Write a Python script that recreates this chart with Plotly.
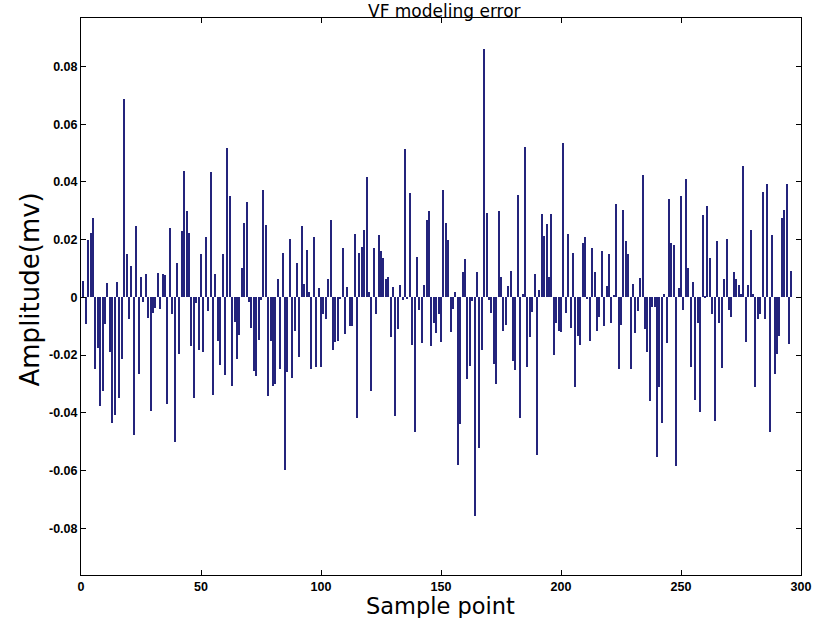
import plotly.graph_objects as go

# Sample index and modelling error values
sample_index = list(range(1, 301))
error_values = [
    0.0057, -0.0093, 0.020, 0.0223, 0.0276, -0.0247, -0.0175, -0.0375, -0.0326, -0.0093,
    0.0049, -0.0188, -0.0434, -0.0406, 0.0052, -0.0349, -0.0213, 0.0689, 0.0151, -0.0076,
    0.0109, -0.0477, 0.0248, -0.0267, 0.0072, -0.0016, 0.008, -0.007, -0.0392, -0.0053,
    -0.0036, 0.0085, -0.0042, 0.0082, 0.0078, -0.0369, 0.024, -0.0057, -0.0502, 0.0119,
    -0.0195, 0.0231, 0.0437, 0.0299, 0.0224, -0.0169, -0.0349, -0.0019, -0.0182, 0.0151,
    -0.019, 0.021, -0.0048, 0.0433, -0.0338, 0.008, -0.015, -0.0235, 0.0151, -0.0269,
    0.0519, 0.0351, -0.0307, -0.0084, -0.0213, -0.013, 0.0102, 0.0256, 0.033, -0.0016,
    -0.0107, -0.0255, -0.0272, -0.0147, -0.0008, 0.0373, 0.025, -0.0343, -0.015, -0.0307,
    -0.0301, 0.0063, -0.0247, 0.0155, -0.0599, -0.0258, 0.0201, -0.0278, -0.0116, 0.0119,
    -0.0207, 0.0247, 0.0047, 0.0165, 0.002, -0.0247, 0.021, -0.0241, 0.0034, -0.0241,
    -0.0056, -0.0074, 0.0063, 0.0267, -0.0182, -0.0156, -0.015, -0.0003, 0.0172, -0.0127,
    0.0037, -0.0099, -0.0099, 0.0219, -0.0419, 0.0153, 0.0174, 0.0234, 0.0418, 0.002,
    -0.0326, 0.017, -0.0057, 0.0217, 0.0159, 0.0136, 0.0064, 0.0072, -0.0139, 0.0037,
    -0.0411, -0.011, 0.0043, -0.0008, 0.0513, -0.0003, 0.0361, -0.0165, -0.0468, 0.014,
    -0.0044, -0.0158, 0.0043, 0.0267, 0.0299, -0.0167, -0.009, -0.0125, -0.0057, -0.0153,
    0.0372, 0.0256, 0.0199, -0.0119, -0.004, 0.002, -0.058, -0.044, 0.0089, 0.0132,
    -0.0284, -0.0239, -0.0011, -0.0758, 0.0089, -0.0523, -0.0184, 0.0859, 0.0293, -0.0008,
    -0.0053, -0.023, -0.030, 0.0299, 0.0072, -0.0116, -0.0097, 0.004, 0.0091, -0.0222,
    -0.025, 0.0356, -0.0417, 0.0013, 0.0522, -0.0242, -0.0139, -0.0051, 0.008, -0.0545,
    0.0026, 0.029, 0.0214, 0.0253, 0.0069, 0.0288, -0.0198, -0.009, -0.0116, -0.0119,
    0.0535, -0.0053, 0.0219, -0.0107, 0.0155, -0.0312, -0.0133, -0.0165, 0.0188, 0.0208,
    -0.0003, -0.0152, 0.0172, 0.0089, -0.0116, -0.0068, 0.0159, -0.0099, 0.004, 0.0149,
    -0.009, 0.0007, 0.0322, -0.0249, -0.0097, 0.0302, 0.0194, 0.0149, -0.0249, 0.0047,
    -0.0125, -0.0048, 0.0066, 0.0424, -0.011, -0.0188, -0.0358, -0.0034, -0.0034, -0.0553,
    -0.0309, -0.0434, 0.0013, -0.0159, 0.0341, 0.0188, 0.0183, -0.0585, 0.0034, 0.0351,
    -0.0044, 0.041, 0.0102, -0.0241, 0.0052, -0.0357, -0.0088, -0.0398, 0.0285, 0.0006,
    0.0316, 0.0136, -0.0057, -0.0428, 0.0194, -0.0088, -0.0244, 0.0064, 0.0201, -0.0044,
    -0.0068, 0.0089, 0.0064, 0.0043, 0.0011, 0.0455, -0.0153, 0.0043, 0.0234, 0.0013,
    -0.0309, -0.0074, -0.0057, 0.0365, -0.0076, 0.0394, -0.0465, 0.0217, -0.0267, -0.0195,
    -0.0133, 0.0276, 0.0302, 0.0392, -0.0161, 0.0091, 0.0, 0.0, 0.0, 0.0,
]

x_ticks = [0, 50, 100, 150, 200, 250, 300]
y_ticks = [-0.08, -0.06, -0.04, -0.02, 0, 0.02, 0.04, 0.06, 0.08]
y_tick_text = ["-0.08", "-0.06", "-0.04", "-0.02", "0", "0.02", "0.04", "0.06", "0.08"]

title_text = "VF modeling error"
x_title = "Sample point"
y_title = "Amplitude(mv)"

W, H = 823, 618
L, R, T, B = 81, 808, 18, 575

fig = go.Figure()
fig.add_trace(go.Bar(
    x=sample_index, y=error_values, width=0.4,
    marker=dict(color="#24247c", line=dict(width=0)),
    showlegend=False,
))

def px_to_paper_y(p):
    return (B - p) / (B - T)

def px_to_paper_x(p):
    return (p - L) / (R - L)

tick_font = dict(family="Liberation Sans", size=12.5, color="black", weight="bold")

fig.update_layout(
    width=W, height=H,
    margin=dict(l=L, r=W - R, t=T, b=H - B, pad=0),
    paper_bgcolor="white", plot_bgcolor="white",
    bargap=0,
    xaxis=dict(
        range=[0, 300], tickvals=x_ticks, ticks="inside", ticklen=5,
        tickcolor="black", showline=True, linecolor="black", linewidth=1,
        mirror="ticks", showgrid=False, zeroline=False, tickfont=tick_font,
    ),
    yaxis=dict(
        range=[-0.0962, 0.0968], tickvals=y_ticks, ticktext=y_tick_text,
        ticks="inside", ticklen=5, tickcolor="black", showline=True,
        linecolor="black", linewidth=1, mirror="ticks", showgrid=False,
        zeroline=False, tickfont=tick_font,
    ),
    annotations=[
        dict(text=title_text, xref="paper", yref="paper",
             x=px_to_paper_x(448), y=px_to_paper_y(11.5), showarrow=False,
             xanchor="center", yanchor="middle", borderpad=0,
             font=dict(family="DejaVu Sans", size=17, color="black")),
        dict(text=x_title, xref="paper", yref="paper",
             x=px_to_paper_x(444), y=px_to_paper_y(606), showarrow=False,
             xanchor="center", yanchor="middle", borderpad=0,
             font=dict(family="DejaVu Sans", size=22.5, color="black")),
        dict(text=y_title, xref="paper", yref="paper",
             x=px_to_paper_x(30), y=px_to_paper_y(289), showarrow=False,
             xanchor="center", yanchor="middle", textangle=-90, borderpad=0,
             font=dict(family="DejaVu Sans", size=26, color="black")),
    ],
)

fig.write_html("out.html")
